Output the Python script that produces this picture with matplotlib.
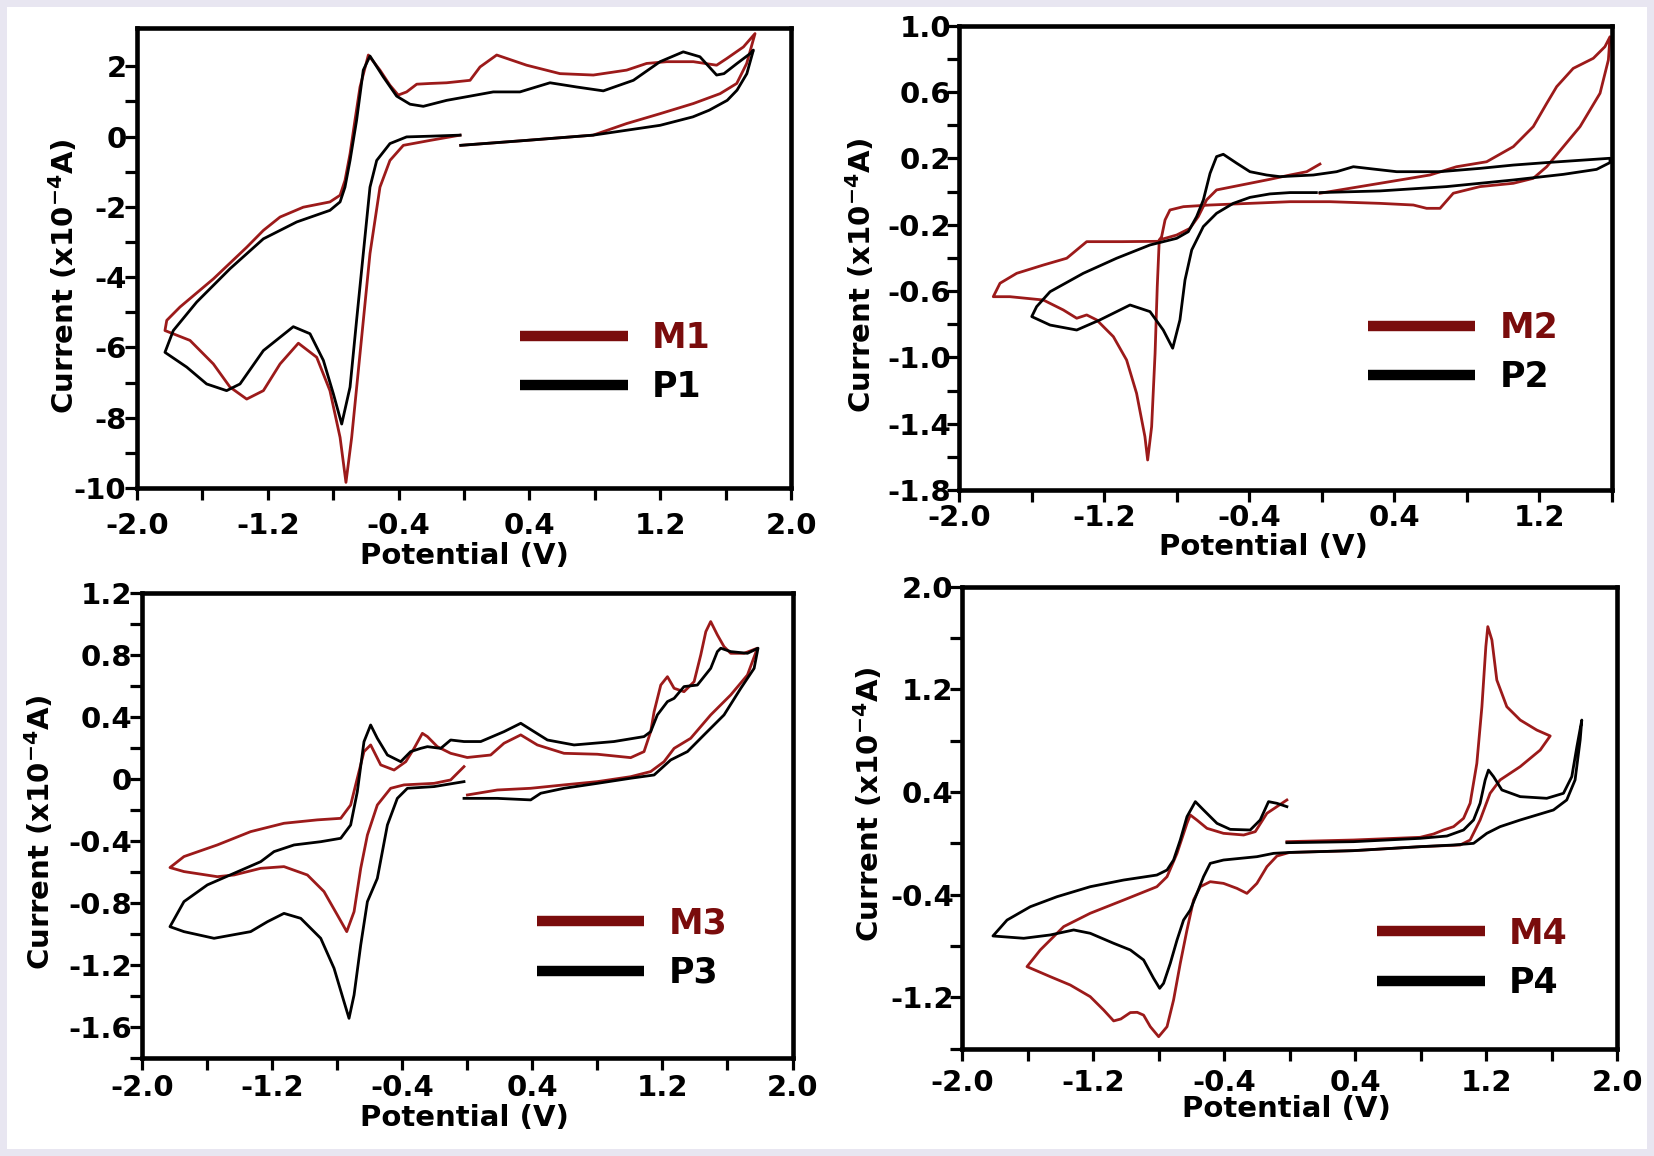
import matplotlib
matplotlib.use("Agg")
import matplotlib.pyplot as plt
from matplotlib.patches import Rectangle

plt.rcParams['font.family'] = ['DejaVu Sans']
plt.rcParams['font.weight'] = 'bold'
plt.rcParams['mathtext.fontset'] = 'dejavusans'
plt.rcParams['mathtext.default'] = 'bf'

RED = '#9c1a1a'
RED_DARK = '#7a0c0c'

# ---------------- data (potential V, current x1e-4 A) ----------------
M1_V = [-0.02, 0.38, 0.79, 0.995, 1.199, 1.403, 1.566, 1.668, 1.729, 1.780,
        1.709, 1.607, 1.545, 1.403, 1.240, 1.117, 0.995, 0.791, 0.587, 0.383, 0.200, 0.098, 0.037,
        -0.106, -0.208, -0.289, -0.351, -0.402, -0.453, -0.514, -0.585, -0.636, -0.667, -0.697,
        -0.728, -0.758, -0.820, -0.983, -1.125, -1.227, -1.329, -1.533, -1.737, -1.818, -1.829,
        -1.676, -1.533, -1.431, -1.329, -1.227, -1.125, -1.013, -0.901, -0.820, -0.758, -0.722,
        -0.687, -0.636, -0.575, -0.514, -0.453, -0.371, -0.208, -0.024]
M1_I = [-0.25, -0.11, 0.04, 0.37, 0.65, 0.94, 1.22, 1.51, 2.08, 2.93,
        2.55, 2.22, 2.03, 2.13, 2.13, 2.08, 1.89, 1.75, 1.79, 2.03, 2.32, 1.98, 1.60,
        1.53, 1.51, 1.49, 1.27, 1.18, 1.46, 1.89, 2.32, 1.41, 0.46, -0.49,
        -1.25, -1.67, -1.86, -2.01, -2.29, -2.67, -3.15, -4.05, -4.85, -5.23, -5.52,
        -5.80, -6.47, -7.13, -7.47, -7.23, -6.47, -5.88, -6.28, -7.23, -8.56, -9.84,
        -8.56, -6.18, -3.33, -1.44, -0.68, -0.25, -0.11, 0.04]

P1_V = [-0.02, 0.38, 0.79, 1.20, 1.40, 1.50, 1.61, 1.67, 1.73, 1.77,
        1.75, 1.67, 1.59, 1.545, 1.443, 1.341, 1.199, 1.036, 0.852, 0.689, 0.526, 0.342, 0.179,
        0.037, -0.106, -0.249, -0.330, -0.412, -0.494, -0.575, -0.616, -0.657, -0.697, -0.728,
        -0.758, -0.820, -1.023, -1.227, -1.431, -1.635, -1.778, -1.829,
        -1.696, -1.574, -1.452, -1.370, -1.227, -1.044, -0.942, -0.860, -0.799, -0.748, -0.697,
        -0.657, -0.616, -0.575, -0.534, -0.453, -0.351, -0.208, -0.024]
P1_I = [-0.25, -0.11, 0.04, 0.32, 0.56, 0.75, 1.03, 1.32, 1.79, 2.46,
        2.36, 2.08, 1.79, 1.75, 2.27, 2.41, 2.13, 1.60, 1.30, 1.41, 1.53, 1.27, 1.27,
        1.15, 1.03, 0.86, 0.92, 1.15, 1.70, 2.29, 1.89, 0.46, -0.68, -1.44,
        -1.86, -2.10, -2.43, -2.91, -3.76, -4.71, -5.52, -6.14,
        -6.56, -7.04, -7.23, -7.04, -6.09, -5.41, -5.61, -6.37, -7.32, -8.18, -7.13,
        -5.23, -3.33, -1.44, -0.68, -0.20, -0.01, 0.01, 0.04]

M2_V = [-0.010, 0.321, 0.596, 0.743, 0.909, 1.056, 1.166, 1.240, 1.295, 1.386, 1.497, 1.561, 1.589,
        1.580, 1.534, 1.424, 1.332, 1.240, 1.166, 1.056, 0.872, 0.725, 0.652, 0.578, 0.505, 0.321,
        0.045, -0.175, -0.396, -0.617, -0.763, -0.837, -0.864, -0.883, -0.900, -1.100, -1.296,
        -1.351, -1.406, -1.535, -1.682, -1.774, -1.811,
        -1.719, -1.535, -1.425, -1.351, -1.296, -1.241, -1.149, -1.076, -1.021, -0.975, -0.960,
        -0.938, -0.919, -0.907, -0.896, -0.800, -0.727, -0.681, -0.635, -0.580, -0.488, -0.396,
        -0.286, -0.175, -0.083, -0.010]
M2_I = [-0.010, 0.050, 0.100, 0.150, 0.180, 0.271, 0.392, 0.532, 0.633, 0.743, 0.804, 0.874, 0.934,
        0.794, 0.593, 0.392, 0.271, 0.150, 0.080, 0.050, 0.030, -0.010, -0.101, -0.101, -0.081, -0.071,
        -0.061, -0.061, -0.071, -0.081, -0.091, -0.111, -0.171, -0.272, -0.300, -0.302, -0.302,
        -0.352, -0.402, -0.443, -0.493, -0.553, -0.634,
        -0.634, -0.654, -0.714, -0.764, -0.744, -0.774, -0.875, -1.016, -1.217, -1.478, -1.619,
        -1.418, -0.975, -0.573, -0.292, -0.262, -0.222, -0.151, -0.050, 0.010, 0.030, 0.050,
        0.074, 0.100, 0.120, 0.166]

P2_V = [-0.010, 0.321, 0.688, 1.056, 1.332, 1.515, 1.589,
        1.589, 1.240, 1.056, 0.872, 0.652, 0.413, 0.284, 0.174, 0.082, -0.047, -0.230, -0.304,
        -0.396, -0.469, -0.543, -0.580, -0.616, -0.653, -0.690, -0.736, -0.800, -0.947, -1.131,
        -1.315, -1.498, -1.572, -1.599,
        -1.498, -1.351, -1.223, -1.057, -0.947, -0.874, -0.822, -0.782, -0.754, -0.717, -0.653,
        -0.580, -0.488, -0.396, -0.286, -0.175, -0.030]
P2_I = [-0.006, 0.004, 0.030, 0.070, 0.104, 0.134, 0.175,
        0.201, 0.175, 0.160, 0.140, 0.120, 0.120, 0.136, 0.150, 0.120, 0.100, 0.090, 0.100,
        0.120, 0.171, 0.225, 0.211, 0.110, -0.051, -0.151, -0.242, -0.282, -0.322, -0.402,
        -0.493, -0.604, -0.694, -0.754,
        -0.805, -0.835, -0.774, -0.684, -0.724, -0.835, -0.945, -0.774, -0.533, -0.352, -0.211,
        -0.131, -0.071, -0.035, -0.014, -0.006, -0.006]

M3_V = [0.001, 0.185, 0.390, 0.595, 0.800, 1.005, 1.128, 1.210, 1.272, 1.374, 1.497, 1.620, 1.723, 1.784,
        1.702, 1.620, 1.579, 1.538, 1.497, 1.467, 1.436, 1.395, 1.333, 1.272, 1.231, 1.190, 1.149,
        1.128, 1.087, 1.005, 0.800, 0.595, 0.431, 0.329, 0.226, 0.144, 0.000, -0.102, -0.184,
        -0.245, -0.276, -0.327, -0.378, -0.450, -0.532, -0.594, -0.635, -0.676, -0.717, -0.778,
        -0.922, -1.127, -1.332, -1.537, -1.742, -1.828,
        -1.742, -1.537, -1.434, -1.270, -1.127, -0.983, -0.881, -0.799, -0.741, -0.696, -0.655,
        -0.614, -0.553, -0.471, -0.389, -0.204, -0.102, -0.020]
M3_I = [-0.102, -0.070, -0.059, -0.037, -0.016, 0.016, 0.049, 0.113, 0.199, 0.264, 0.415, 0.544, 0.673, 0.846,
        0.813, 0.813, 0.856, 0.932, 1.018, 0.953, 0.803, 0.630, 0.565, 0.587, 0.662, 0.608, 0.436,
        0.307, 0.178, 0.139, 0.161, 0.167, 0.221, 0.286, 0.232, 0.156, 0.140, 0.167, 0.210,
        0.275, 0.296, 0.199, 0.113, 0.059, 0.092, 0.221, 0.178, 0.006, -0.167, -0.253,
        -0.263, -0.285, -0.339, -0.425, -0.500, -0.571,
        -0.597, -0.630, -0.619, -0.576, -0.565, -0.619, -0.726, -0.877, -0.985, -0.856, -0.576,
        -0.361, -0.167, -0.059, -0.037, -0.027, -0.005, 0.081]

P3_V = [-0.020, 0.185, 0.390, 0.452, 0.595, 0.800, 1.005, 1.149, 1.251, 1.354, 1.456, 1.579, 1.682, 1.764, 1.788,
        1.723, 1.620, 1.559, 1.538, 1.497, 1.415, 1.333, 1.272, 1.231, 1.169, 1.128, 1.087, 0.902,
        0.657, 0.493, 0.329, 0.226, 0.083, -0.020, -0.102, -0.163, -0.245, -0.286, -0.348, -0.409,
        -0.491, -0.553, -0.594, -0.635, -0.676, -0.717, -0.778, -0.901, -1.065, -1.188, -1.270,
        -1.434, -1.598, -1.742, -1.828,
        -1.742, -1.557, -1.332, -1.229, -1.127, -1.024, -0.901, -0.819, -0.758, -0.727, -0.696,
        -0.655, -0.614, -0.553, -0.491, -0.430, -0.368, -0.204, -0.020]
P3_I = [-0.124, -0.124, -0.134, -0.091, -0.059, -0.027, 0.006, 0.027, 0.124, 0.178, 0.286, 0.415, 0.587, 0.716, 0.846,
        0.813, 0.824, 0.846, 0.824, 0.716, 0.608, 0.598, 0.522, 0.501, 0.415, 0.307, 0.275, 0.243,
        0.221, 0.253, 0.361, 0.307, 0.243, 0.243, 0.253, 0.199, 0.210, 0.199, 0.178, 0.113,
        0.156, 0.264, 0.350, 0.242, -0.081, -0.296, -0.382, -0.404, -0.425, -0.468, -0.533,
        -0.608, -0.683, -0.791, -0.953,
        -0.985, -1.028, -0.985, -0.921, -0.867, -0.899, -1.028, -1.222, -1.437, -1.545, -1.394,
        -1.071, -0.791, -0.641, -0.296, -0.124, -0.059, -0.048, -0.016]

M4_V = [-0.016, 0.391, 0.798, 0.880, 0.940, 1.002, 1.063, 1.103, 1.144, 1.175, 1.199, 1.211, 1.236,
        1.266, 1.327, 1.409, 1.510, 1.592,
        1.531, 1.409, 1.286, 1.225, 1.164, 1.103, 1.042, 0.798, 0.391, 0.000, -0.077, -0.138,
        -0.199, -0.260, -0.321, -0.403, -0.484, -0.545, -0.586, -0.626, -0.667, -0.708, -0.748,
        -0.799, -0.850, -0.891, -0.930, -0.972, -1.030, -1.074, -1.135, -1.217, -1.339, -1.461, -1.603,
        -1.522, -1.379, -1.217, -1.013, -0.810, -0.748, -0.687, -0.626, -0.606, -0.565, -0.504,
        -0.403, -0.280, -0.209, -0.138, -0.016]
M4_I = [0.012, 0.025, 0.046, 0.072, 0.103, 0.129, 0.194, 0.311, 0.622, 1.064, 1.532, 1.688, 1.584,
        1.272, 1.064, 0.960, 0.882, 0.836,
        0.726, 0.597, 0.493, 0.389, 0.181, 0.025, -0.014, -0.027, -0.058, -0.072, -0.100, -0.183,
        -0.313, -0.391, -0.352, -0.313, -0.300, -0.339, -0.443, -0.676, -0.936, -1.222, -1.430,
        -1.508, -1.430, -1.340, -1.318, -1.320, -1.370, -1.385, -1.300, -1.196, -1.105, -1.040, -0.962,
        -0.832, -0.650, -0.546, -0.443, -0.339, -0.261, -0.079, 0.155, 0.220, 0.180, 0.116,
        0.077, 0.064, 0.090, 0.233, 0.337]

P4_V = [-0.016, 0.391, 0.798, 0.961, 1.063, 1.124, 1.164, 1.195, 1.215, 1.246, 1.297, 1.409, 1.571,
        1.673, 1.724, 1.755, 1.785,
        1.775, 1.744, 1.693, 1.612, 1.409, 1.286, 1.205, 1.124, 1.002, 0.798, 0.391, 0.000, -0.097,
        -0.199, -0.301, -0.403, -0.484, -0.525, -0.565, -0.606, -0.647, -0.687, -0.728, -0.769,
        -0.793, -0.830, -0.891, -0.972, -1.074, -1.217, -1.318, -1.461, -1.623, -1.811,
        -1.725, -1.583, -1.420, -1.217, -1.013, -0.810, -0.748, -0.708, -0.667, -0.626, -0.575,
        -0.525, -0.443, -0.362, -0.240, -0.179, -0.128, -0.077, -0.016]
P4_I = [0.004, 0.012, 0.038, 0.056, 0.103, 0.181, 0.311, 0.493, 0.570, 0.519, 0.415, 0.363, 0.350,
        0.389, 0.519, 0.752, 0.960,
        0.804, 0.493, 0.337, 0.259, 0.181, 0.129, 0.077, -0.001, -0.014, -0.027, -0.058, -0.072, -0.079,
        -0.105, -0.118, -0.131, -0.157, -0.261, -0.391, -0.521, -0.599, -0.755, -0.936, -1.092,
        -1.131, -1.053, -0.910, -0.832, -0.780, -0.702, -0.676, -0.715, -0.741, -0.723,
        -0.599, -0.495, -0.417, -0.339, -0.287, -0.248, -0.209, -0.131, 0.025, 0.207, 0.324,
        0.259, 0.155, 0.108, 0.103, 0.181, 0.324, 0.311, 0.285]

SERIES_NAMES = [('M1', 'P1'), ('M2', 'P2'), ('M3', 'P3'), ('M4', 'P4')]

X_TICKS = [-2.0, -1.6, -1.2, -0.8, -0.4, 0.0, 0.4, 0.8, 1.2, 1.6, 2.0]
X_TICK_LABELS = ['-2.0', '', '-1.2', '', '-0.4', '', '0.4', '', '1.2', '', '2.0']
X2_TICKS = [-2.0, -1.6, -1.2, -0.8, -0.4, 0.0, 0.4, 0.8, 1.2, 1.6]
X2_TICK_LABELS = ['-2.0', '', '-1.2', '', '-0.4', '', '0.4', '', '1.2', '']

Y1_TICKS = [-10, -9, -8, -7, -6, -5, -4, -3, -2, -1, 0, 1, 2]
Y1_TICK_LABELS = ['-10', '', '-8', '', '-6', '', '-4', '', '-2', '', '0', '', '2']
Y2_TICKS = [-1.8, -1.6, -1.4, -1.2, -1.0, -0.8, -0.6, -0.4, -0.2, 0.0, 0.2, 0.4, 0.6, 0.8, 1.0]
Y2_TICK_LABELS = ['-1.8', '', '-1.4', '', '-1.0', '', '-0.6', '', '-0.2', '', '0.2', '', '0.6', '', '1.0']
Y3_TICKS = [-1.8, -1.6, -1.4, -1.2, -1.0, -0.8, -0.6, -0.4, -0.2, 0.0, 0.2, 0.4, 0.6, 0.8, 1.0, 1.2]
Y3_TICK_LABELS = ['', '-1.6', '', '-1.2', '', '-0.8', '', '-0.4', '', '0', '', '0.4', '', '0.8', '', '1.2']
Y4_TICKS = [-1.6, -1.2, -0.8, -0.4, 0.0, 0.4, 0.8, 1.2, 1.6, 2.0]
Y4_TICK_LABELS = ['', '-1.2', '', '-0.4', '', '0.4', '', '1.2', '', '2.0']

# ---------------- layout ----------------
W, H = 1654, 1156
fig = plt.figure(figsize=(W / 100, H / 100), dpi=100)
fig.patch.set_facecolor('#e8e6f1')
fig.add_artist(Rectangle((7 / W, 7 / H), 1 - 14 / W, 1 - 14 / H, transform=fig.transFigure,
                         facecolor='white', edgecolor='none', zorder=-10))

panels = [
    dict(box=(137, 791, 28.3, 488), xlim=(-2.0, 2.0), ylim=(-10, 3.08),
         xt=(X_TICKS, X_TICK_LABELS), yt=(Y1_TICKS, Y1_TICK_LABELS),
         data=(M1_V, M1_I, P1_V, P1_I), xl=(0.5, -0.148), yl=(-0.113, 0.461),
         leg=(0.586, 0.273), xpad=8.5, ypad=-1.0),
    dict(box=(959, 1612, 25.8, 490), xlim=(-2.0, 1.6), ylim=(-1.8, 1.0),
         xt=(X2_TICKS, X2_TICK_LABELS), yt=(Y2_TICKS, Y2_TICK_LABELS),
         data=(M2_V, M2_I, P2_V, P2_I), xl=(0.466, -0.123), yl=(-0.150, 0.463),
         leg=(0.626, 0.296), xpad=1.5, ypad=-3.0),
    dict(box=(142, 792.5, 593.4, 1057.8), xlim=(-2.0, 2.0), ylim=(-1.8, 1.2),
         xt=(X_TICKS, X_TICK_LABELS), yt=(Y3_TICKS, Y3_TICK_LABELS),
         data=(M3_V, M3_I, P3_V, P3_I), xl=(0.495, -0.130), yl=(-0.157, 0.485),
         leg=(0.607, 0.2365), xpad=3.2, ypad=-1.5),
    dict(box=(962, 1617, 586.6, 1048.5), xlim=(-2.0, 2.0), ylim=(-1.6, 2.0),
         xt=(X_TICKS, X_TICK_LABELS), yt=(Y4_TICKS, Y4_TICK_LABELS),
         data=(M4_V, M4_I, P4_V, P4_I), xl=(0.496, -0.131), yl=(-0.142, 0.529),
         leg=(0.634, 0.195), xpad=6.5, ypad=-2.6),
]

for p, (mname, pname) in zip(panels, SERIES_NAMES):
    l, r, t, b = p['box']
    ax = fig.add_axes([l / W, 1 - b / H, (r - l) / W, (b - t) / H])
    mv, mi, pv, pi = p['data']
    lm, = ax.plot(mv, mi, color=RED, lw=2.0, solid_joinstyle='round')
    lp, = ax.plot(pv, pi, color='black', lw=2.0, solid_joinstyle='round')
    ax.set_xlim(*p['xlim'])
    ax.set_ylim(*p['ylim'])
    ax.set_xticks(p['xt'][0], labels=p['xt'][1])
    ax.set_yticks(p['yt'][0], labels=p['yt'][1])
    for s in ax.spines.values():
        s.set_linewidth(3.3)
        s.set_color('black')
    ax.tick_params(axis='both', direction='out', length=8.6, width=2.3, labelsize=21,
                   top=False, right=False)
    ax.tick_params(axis='x', pad=p['xpad'])
    ax.tick_params(axis='y', pad=p['ypad'])
    for lab in ax.get_xticklabels() + ax.get_yticklabels():
        lab.set_fontweight('bold')
    ax.set_xlabel('Potential (V)', fontsize=21, fontweight='bold', va='center', ha='center')
    ax.xaxis.set_label_coords(*p['xl'])
    ax.set_ylabel('Current (x10$^{-4}$A)', fontsize=21, fontweight='bold', va='center', ha='center')
    ax.yaxis.set_label_coords(*p['yl'])
    leg = ax.legend([lm, lp], [mname, pname], loc='center left', bbox_to_anchor=p['leg'],
                    frameon=False, prop={'weight': 'bold', 'size': 25}, handlelength=3.1,
                    handletextpad=0.7, labelspacing=0.45, borderpad=0, borderaxespad=0,
                    labelcolor=[RED_DARK, 'black'])
    for line, c in zip(leg.get_lines(), [RED_DARK, 'black']):
        line.set_linewidth(7.5)
        line.set_color(c)
        line.set_solid_capstyle('butt')

fig.savefig('out.png', dpi=100, facecolor=fig.get_facecolor())
